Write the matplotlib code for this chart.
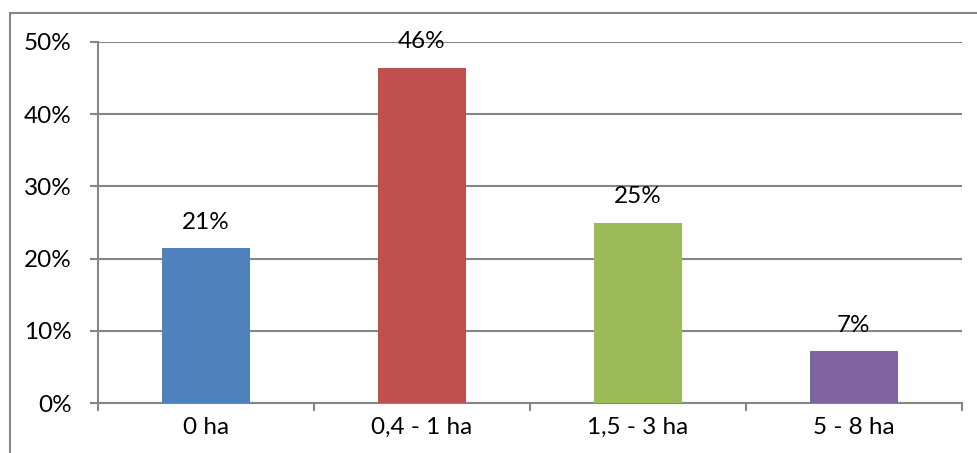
import matplotlib
matplotlib.use("Agg")
import matplotlib.pyplot as plt
from matplotlib.patches import Rectangle
from matplotlib.ticker import FixedLocator, NullFormatter

# Distribution of farm size (28 respondents)
categories = ["0 ha", "0,4 - 1 ha", "1,5 - 3 ha", "5 - 8 ha"]
counts = [6, 13, 7, 2]
total = 28
shares = [c / total for c in counts]
bar_colors = ["#4F81BD", "#C0504D", "#9BBB59", "#8064A2"]
y_ticks = [0.0, 0.1, 0.2, 0.3, 0.4, 0.5]
y_tick_labels = ["0%", "10%", "20%", "30%", "40%", "50%"]

plt.rcParams["font.family"] = ["Lato", "DejaVu Sans"]
W, H = 978, 453
FS = 17.5
fig = plt.figure(figsize=(W / 100, H / 100), dpi=100)
ax = fig.add_axes([98 / W, (H - 403) / H, (962 - 98) / W, (403 - 42) / H])

grid_col = "#868686"
x = list(range(len(categories)))
ax.bar(x, shares, width=0.404, color=bar_colors, zorder=3)

for xi, v in zip(x, shares):
    ax.annotate(f"{round(v * 100):d}%", (xi, v), xytext=(0, 26),
                textcoords="offset pixels", ha="center", va="center",
                fontsize=FS, color="#000000")

ax.set_xlim(-0.5, len(categories) - 0.5)
ax.set_ylim(0, 0.5)
ax.set_yticks(y_ticks)
ax.set_yticklabels(y_tick_labels)
ax.yaxis.grid(True, color=grid_col, linewidth=1.5, zorder=0)
ax.set_axisbelow(True)

# category labels centred under bars, tick marks at category boundaries
ax.set_xticks(x)
ax.set_xticklabels(categories)
ax.tick_params(axis="x", which="major", length=0, pad=10, labelsize=FS)
ax.xaxis.set_minor_locator(FixedLocator([i - 0.5 for i in range(len(categories) + 1)]))
ax.xaxis.set_minor_formatter(NullFormatter())
ax.tick_params(axis="x", which="minor", length=6, width=1.5, color=grid_col, direction="out")
ax.tick_params(axis="y", length=6, width=1.5, color=grid_col, pad=13, labelsize=FS)

for side in ["top", "right"]:
    ax.spines[side].set_visible(False)
for side in ["left", "bottom"]:
    ax.spines[side].set_color(grid_col)
    ax.spines[side].set_linewidth(1.5)

# outer chart frame
fig.patches.append(Rectangle((10 / W, -0.2), 1.2, (H - 13) / H + 0.2,
                             transform=fig.transFigure, fill=False,
                             edgecolor=grid_col, linewidth=1.5))

fig.savefig("out.png", dpi=100)
